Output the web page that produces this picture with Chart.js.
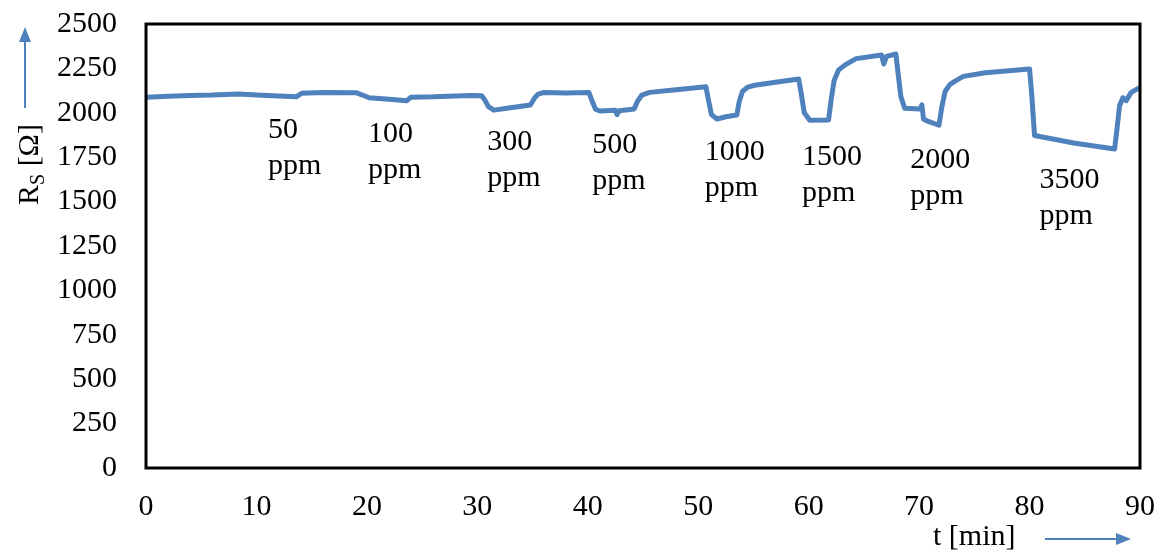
<!DOCTYPE html>
<html>
<head>
<meta charset="utf-8">
<script src="https://cdn.jsdelivr.net/npm/chart.js@4"></script>
<style>
    html, body { margin: 0; padding: 0; background: #fff; }
    #wrap { width: 1161px; height: 551px; }
</style>
</head>
<body>
<div id="wrap"><canvas id="rsChart" width="1161" height="551"></canvas></div>
<script>
// czas [min] i rezystancja czujnika [Ohm]
const tMin = [
    0, 2, 4, 6, 8.4, 10, 12, 13.6, 14.1, 16, 19.0, 19.6, 20.2, 22, 23.6, 24.0, 26, 28, 29.5, 30.4,
    30.7, 31.0, 31.5, 33, 34.8, 35.2, 35.5, 36, 38, 40.1,
    40.4, 40.7, 41.1, 42.5, 42.65, 42.85, 44.2, 44.5, 44.9, 45.6, 48, 50.7,
    50.9, 51.2, 51.7, 52.5, 53.5, 53.7, 54.0, 54.5, 55.1, 57, 59.1,
    59.35, 59.6, 60.1, 61.8, 62.05, 62.3, 62.7, 63.3, 64.3, 66.6, 66.8, 67.05, 67.9,
    68.1, 68.35, 68.7, 70.1, 70.25, 70.4, 70.7, 71.8, 72.05, 72.35, 72.8, 73.3, 74, 76, 80,
    80.2, 80.45, 84, 87.7, 87.9, 88.15, 88.45, 88.75, 89.2, 90
];
const rsOhm = [
    2088, 2093, 2098, 2100, 2106, 2100, 2094, 2090, 2110, 2114, 2113, 2100, 2085, 2076, 2068, 2088, 2090, 2095, 2098, 2096,
    2070, 2035, 2015, 2028, 2044, 2085, 2105, 2114, 2112, 2115,
    2065, 2020, 2010, 2015, 1990, 2012, 2022, 2065, 2100, 2115, 2130, 2147,
    2080, 1990, 1965, 1978, 1988, 2060, 2120, 2145, 2155, 2172, 2190,
    2100, 2000, 1958, 1960, 2080, 2180, 2240, 2270, 2305, 2325, 2275, 2318, 2331,
    2220, 2090, 2025, 2022, 2045, 1965, 1955, 1930, 2030, 2120, 2160, 2180, 2205, 2225, 2247,
    2100, 1872, 1830, 1796, 1900, 2040, 2085, 2068, 2115, 2143
];

// opisy stężeń (pozycja w jednostkach osi)
const gasLabels = ["50", "100", "300", "500", "1000", "1500", "2000", "3500"];
const gasLabelT = [11.05, 20.1, 30.9, 40.4, 50.6, 59.4, 69.2, 80.9];
const gasLabelR = [1860, 1838, 1793, 1776, 1736, 1708, 1691, 1578];

const FONT = "Liberation Serif, Times New Roman, serif";
const BLUE = "#4f81bd";

function arrowHead(ctx, x, y, dir) {
    // dir: "up" lub "right"
    ctx.beginPath();
    if (dir === "up") {
        ctx.moveTo(x, y); ctx.lineTo(x - 6, y + 15); ctx.lineTo(x + 6, y + 15);
    } else {
        ctx.moveTo(x, y); ctx.lineTo(x - 15, y - 6); ctx.lineTo(x - 15, y + 6);
    }
    ctx.closePath();
    ctx.fill();
}

const decorPlugin = {
    id: "decor",
    afterDatasetsDraw(chart) {
        const ctx = chart.ctx;
        const a = chart.chartArea;
        const xs = chart.scales.x, ys = chart.scales.y;
        ctx.save();

        // ramka obszaru wykresu
        ctx.strokeStyle = "#000";
        ctx.lineWidth = 3;
        ctx.strokeRect(a.left, a.top, a.right - a.left, a.bottom - a.top);

        // opisy ppm
        ctx.fillStyle = "#000";
        ctx.font = "30px " + FONT;
        ctx.textAlign = "left";
        ctx.textBaseline = "alphabetic";
        gasLabels.forEach((txt, i) => {
            let px = xs.getPixelForValue(gasLabelT[i]);
            let py = ys.getPixelForValue(gasLabelR[i]);
            ctx.fillText(txt, px, py);
            ctx.fillText("ppm", px, py + 36);
        });

        // tytuł osi Y: R_S [Ω]
        ctx.save();
        ctx.translate(38, 205);
        ctx.rotate(-Math.PI / 2);
        ctx.font = "30px " + FONT;
        ctx.fillText("R", 0, 0);
        let w = ctx.measureText("R").width;
        ctx.font = "20px " + FONT;
        ctx.fillText("S", w, 6);
        w += ctx.measureText("S").width;
        ctx.font = "30px " + FONT;
        ctx.fillText(" [Ω]", w, 0);
        ctx.restore();

        // tytuł osi X
        ctx.font = "30px " + FONT;
        ctx.fillText("t [min]", 933, 545);

        // strzałki
        ctx.strokeStyle = BLUE;
        ctx.fillStyle = BLUE;
        ctx.lineWidth = 2;
        ctx.beginPath();
        ctx.moveTo(25, 108); ctx.lineTo(25, 38);
        ctx.moveTo(1045, 539); ctx.lineTo(1120, 539);
        ctx.stroke();
        arrowHead(ctx, 25, 27, "up");
        arrowHead(ctx, 1131, 539, "right");

        ctx.restore();
    }
};

new Chart(document.getElementById("rsChart").getContext("2d"), {
    type: "line",
    data: {
        datasets: [{
            label: "Rs",
            data: tMin.map((t, i) => ({ x: t, y: rsOhm[i] })),
            borderColor: BLUE,
            borderWidth: 5,
            borderJoinStyle: "round",
            borderCapStyle: "round",
            pointRadius: 0,
            tension: 0,
            fill: false
        }]
    },
    options: {
        responsive: false,
        animation: false,
        layout: { padding: { left: 0, top: 24, right: 21, bottom: 0 } },
        plugins: {
            legend: { display: false },
            tooltip: { enabled: false }
        },
        scales: {
            x: {
                type: "linear",
                min: 0,
                max: 90,
                afterFit(scale) {
                    scale.height = 83;
                    scale.paddingLeft = 0; scale.paddingRight = 0;
                },
                grid: { display: false, drawTicks: false },
                border: { display: false },
                ticks: {
                    stepSize: 10,
                    padding: 21,
                    color: "#000",
                    font: { family: FONT, size: 30 },
                    callback: (v) => String(v)
                }
            },
            y: {
                min: 0,
                max: 2500,
                afterFit(scale) {
                    scale.width = 146;
                    scale.paddingTop = 0; scale.paddingBottom = 0;
                },
                grid: { display: false, drawTicks: false },
                border: { display: false },
                ticks: {
                    stepSize: 250,
                    padding: 29,
                    color: "#000",
                    font: { family: FONT, size: 30 },
                    callback: (v) => String(v)
                }
            }
        }
    },
    plugins: [decorPlugin]
});
</script>
</body>
</html>
